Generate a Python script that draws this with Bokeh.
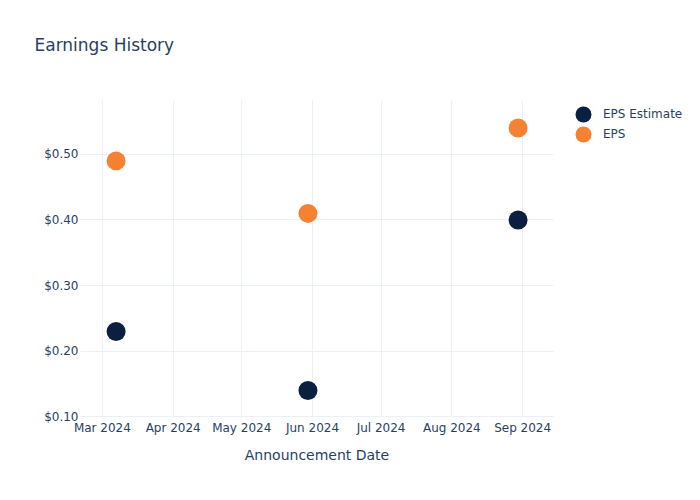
import pandas as pd
from bokeh.plotting import figure
from bokeh.models import (ColumnDataSource, Legend, LegendItem, FixedTicker,
                          NumeralTickFormatter, DatetimeTickFormatter, Range1d, Title)
from bokeh.embed import file_html
from bokeh.resources import INLINE

# ---- data ----
announce_dates = ["2024-03-07", "2024-05-30", "2024-08-30"]
eps_estimate = [0.23, 0.14, 0.40]
eps_actual = [0.49, 0.41, 0.54]
y_ticks = [0.10, 0.20, 0.30, 0.40, 0.50]
x_tick_dates = ["2024-03-01", "2024-04-01", "2024-05-01", "2024-06-01",
                "2024-07-01", "2024-08-01", "2024-09-01"]
x_start, x_end = "2024-02-20 10:00", "2024-09-14 12:00"
y_start, y_end = 0.099, 0.582

FONT = "DejaVu Sans"
TXT = "#2a3f5f"
GRID = "#ebf0f8"
NAVY = "#0b1f40"
ORANGE = "#f58232"

dates = pd.to_datetime(announce_dates)
src = ColumnDataSource(dict(date=dates, est=eps_estimate, eps=eps_actual))

p = figure(width=684, height=484, x_axis_type="datetime", title=None,
           output_backend="svg", toolbar_location=None,
           frame_width=473, frame_height=317,
           min_border_left=80, min_border_right=131,
           min_border_top=100, min_border_bottom=67,
           x_range=Range1d(pd.Timestamp(x_start), pd.Timestamp(x_end)),
           y_range=Range1d(y_start, y_end))

# spacer title next to the frame, then the real title above it
spacer = Title(text=" ", text_font=FONT, text_font_size="17px", standoff=24)
main_title = Title(text="Earnings History", text_font=FONT, text_font_size="17px",
                   text_font_style="normal", text_color=TXT, align="left",
                   offset=-46, standoff=0)
p.add_layout(spacer, "above")
p.add_layout(main_title, "above")

p.outline_line_color = None
p.background_fill_color = "white"
p.border_fill_color = "white"

tick_ms = [pd.Timestamp(d).value / 1e6 for d in x_tick_dates]
p.xaxis.ticker = FixedTicker(ticks=tick_ms)
p.xaxis.formatter = DatetimeTickFormatter(days="%b %Y", months="%b %Y", years="%b %Y")
p.yaxis.ticker = FixedTicker(ticks=y_ticks)
p.yaxis.formatter = NumeralTickFormatter(format="$0.00")

for ax in (p.xaxis[0], p.yaxis[0]):
    ax.axis_line_color = None
    ax.major_tick_line_color = None
    ax.minor_tick_line_color = None
    ax.major_tick_out = 0
    ax.major_tick_in = 0
    ax.minor_tick_out = 0
    ax.minor_tick_in = 0
    ax.major_label_text_font = FONT
    ax.major_label_text_font_size = "12px"
    ax.major_label_text_color = TXT
p.yaxis.major_label_standoff = 2
p.xaxis.major_label_standoff = 3

p.xaxis.axis_label = "Announcement Date"
p.xaxis.axis_label_text_font = FONT
p.xaxis.axis_label_text_font_size = "14px"
p.xaxis.axis_label_text_font_style = "normal"
p.xaxis.axis_label_text_color = TXT
p.xaxis.axis_label_standoff = 9

p.xgrid.grid_line_color = GRID
p.ygrid.grid_line_color = GRID
p.xgrid.ticker = FixedTicker(ticks=tick_ms)
p.ygrid.ticker = FixedTicker(ticks=y_ticks)

# markers drawn as screen-sized circles (ellipses) so the legend glyph is sized well
r_est = p.ellipse("date", "est", source=src, width=19, height=19,
                  width_units="screen", height_units="screen",
                  fill_color=NAVY, line_color=None)
r_eps = p.ellipse("date", "eps", source=src, width=19, height=19,
                  width_units="screen", height_units="screen",
                  fill_color=ORANGE, line_color=None)

legend = Legend(items=[LegendItem(label="EPS Estimate", renderers=[r_est]),
                       LegendItem(label="EPS", renderers=[r_eps])],
                location=(20, 273), padding=0, margin=0, spacing=0,
                glyph_width=20, glyph_height=20, label_standoff=10,
                label_text_font=FONT, label_text_font_size="12px",
                label_text_color=TXT, background_fill_alpha=0,
                border_line_alpha=0, label_height=16)
p.add_layout(legend, "right")

open("out.html", "w").write(file_html(p, INLINE))
